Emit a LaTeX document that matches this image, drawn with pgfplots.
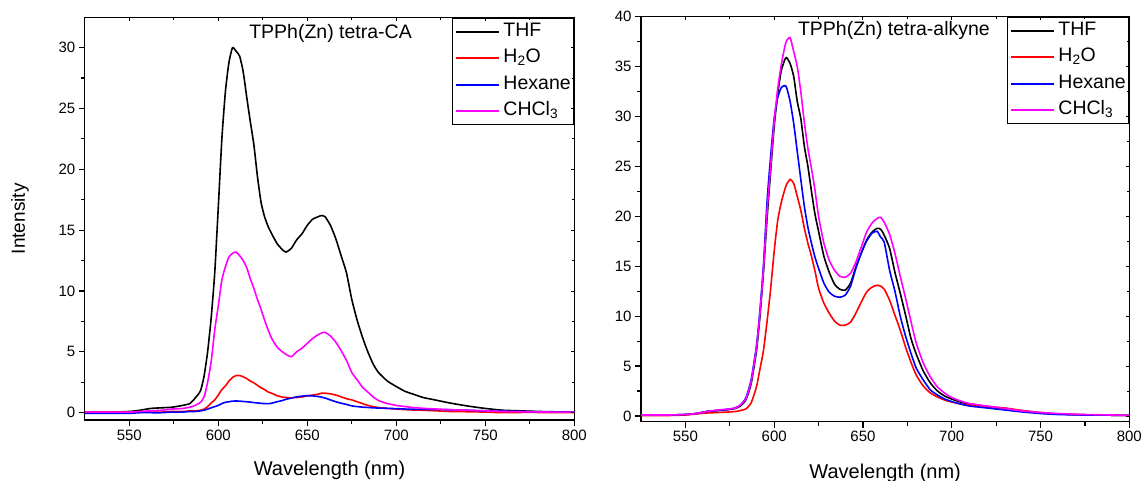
\documentclass[border=0pt]{standalone}
\usepackage{pgfplots}
\pgfplotsset{compat=1.18}
\usepackage{pgfplotstable}
\usepackage{fontspec}
\setmainfont{Liberation Sans}

\pgfplotstableread{
x THF H2O Hex CHCl
525 0.05 0.05 -0.05 0.05
540 0.05 0.05 -0.05 0.05
550 0.1 0.05 -0.05 0.05
556 0.2 0.05 0 0.1
562 0.35 0.05 0 0.15
568 0.4 0.05 0 0.2
574 0.45 0.1 0.05 0.3
580 0.6 0.1 0.05 0.35
584 0.75 0.15 0.1 0.45
587 1.2 0.15 0.1 0.6
590 1.8 0.2 0.15 0.85
592 3.0 0.3 0.2 1.3
594 5.0 0.5 0.3 2.5
596 7.8 0.8 0.4 4.2
598 11.5 1.05 0.5 6.8
600 16.9 1.45 0.6 8.8
602 22.5 1.9 0.75 10.9
604 26.4 2.2 0.85 12.0
606 28.8 2.6 0.9 12.8
608 30.0 2.9 0.95 13.1
610 29.7 3.05 0.96 13.2
612 29.3 3.05 0.95 12.9
614 28.0 2.95 0.92 12.5
616 25.9 2.8 0.9 11.9
618 23.9 2.6 0.87 11.0
620 22.0 2.45 0.83 10.2
622 19.4 2.25 0.8 9.3
624 17.3 2.05 0.77 8.5
626 16.1 1.9 0.75 7.6
628 15.3 1.7 0.74 6.8
630 14.7 1.6 0.78 6.1
633 13.9 1.4 0.9 5.4
636 13.4 1.28 1.0 5.0
638 13.2 1.25 1.1 4.8
641 13.5 1.22 1.2 4.6
644 14.2 1.25 1.3 5.0
647 14.7 1.3 1.36 5.3
650 15.4 1.38 1.4 5.7
653 15.9 1.45 1.38 6.1
656 16.1 1.52 1.33 6.4
658 16.2 1.6 1.28 6.55
660 16.1 1.6 1.2 6.6
663 15.4 1.55 1.05 6.3
666 14.3 1.45 0.9 5.8
669 12.9 1.3 0.78 5.1
672 11.5 1.15 0.68 4.3
675 9.3 1.05 0.56 3.3
678 7.6 0.9 0.5 2.7
681 6.2 0.75 0.46 2.1
684 5.0 0.6 0.43 1.7
687 4.0 0.5 0.4 1.3
690 3.3 0.42 0.38 1.0
695 2.6 0.35 0.36 0.75
700 2.15 0.3 0.33 0.6
705 1.75 0.25 0.3 0.5
710 1.5 0.22 0.28 0.42
715 1.25 0.2 0.27 0.36
720 1.1 0.17 0.26 0.32
730 0.8 0.1 0.24 0.25
740 0.55 0.08 0.2 0.2
750 0.35 0.05 0.15 0.15
760 0.2 0.0 0.12 0.1
770 0.15 0.02 0.1 0.08
780 0.1 0.02 0.07 0.06
790 0.07 0.02 0.05 0.05
800 0.05 0.02 0.05 0.05
}\leftdata

\pgfplotstableread{
x THF H2O Hex CHCl
525 0.1 0.05 0.1 0.1
540 0.1 0.05 0.1 0.1
550 0.15 0.1 0.15 0.15
556 0.25 0.2 0.25 0.25
562 0.45 0.3 0.45 0.45
568 0.55 0.35 0.55 0.6
574 0.65 0.4 0.65 0.7
578 0.75 0.45 0.8 0.8
581 1.0 0.55 1.1 1.1
584 1.6 0.7 1.8 1.7
587 3.2 1.3 3.6 3.4
590 6.5 2.9 7.0 6.8
592 10.0 4.7 10.6 10.3
594 14.5 6.6 15.2 14.8
596 19.8 9.5 21.5 20.5
598 24.5 12.7 26.0 25.0
600 29.0 16.5 29.8 29.5
602 32.3 19.6 31.9 32.8
604 34.6 21.4 32.9 35.2
606 35.7 22.7 33.1 37.0
607 35.9 23.2 32.9 37.6
609 35.3 23.7 31.5 37.9
611 34.0 23.3 29.3 36.5
613 31.5 22.0 26.5 35.0
615 29.8 20.6 23.7 32.5
617 27.0 18.8 21.0 29.4
619 25.0 17.3 18.9 26.8
621 22.5 16.0 17.3 24.8
623 20.2 14.5 15.9 22.6
625 18.5 12.8 14.8 20.0
628 16.0 11.3 13.3 17.3
631 14.4 10.3 12.4 15.6
634 13.2 9.5 12.0 14.6
637 12.7 9.1 11.9 14.0
640 12.6 9.1 12.1 13.9
643 13.3 9.4 13.0 14.3
646 14.9 10.3 14.8 15.4
649 16.3 11.4 16.3 16.9
652 17.6 12.4 17.5 18.4
655 18.4 12.9 18.3 19.3
658 18.8 13.1 18.5 19.8
660 18.7 13.0 17.9 19.9
662 18.1 12.7 17.4 19.4
665 16.8 11.6 14.6 18.2
668 14.4 10.1 12.5 16.3
671 12.3 8.6 10.0 14.0
674 10.1 6.9 8.0 11.8
677 7.8 5.4 6.3 9.5
680 6.2 4.1 4.8 7.3
684 4.5 3.0 3.6 5.3
688 3.3 2.3 2.6 3.9
692 2.5 1.9 2.1 2.9
696 2.0 1.6 1.7 2.3
700 1.7 1.4 1.45 1.85
705 1.4 1.2 1.2 1.5
710 1.2 1.1 1.0 1.25
720 0.95 0.95 0.8 1.0
730 0.7 0.8 0.6 0.75
740 0.5 0.55 0.4 0.5
750 0.3 0.35 0.25 0.35
760 0.2 0.2 0.15 0.25
775 0.12 0.12 0.1 0.15
790 0.08 0.08 0.08 0.1
800 0.05 0.05 0.05 0.05
}\rightdata

\definecolor{cmag}{RGB}{255,0,255}

\pgfplotsset{
  myaxis/.style={
    scale only axis,
    xmin=525, xmax=800,
    xtick={550,600,...,800},
    minor x tick num=1, minor y tick num=1,
    axis line style={line width=1.2pt},
    tick align=outside, xtick pos=bottom, ytick pos=left,
    major tick length=6pt, minor tick length=4pt,
    every tick/.style={black, line width=1.2pt},
    tick label style={font=\fontsize{15}{18}\selectfont},
    /pgf/number format/assume math mode=true,
    scaled ticks=false,
    label style={font=\fontsize{20}{24}\selectfont},
    legend image code/.code={\draw[#1] (0pt,0pt) -- (43pt,0pt);},
    legend style={at={(1.0,1.0)}, anchor=north east, draw=black, line width=1.2pt,
      inner sep=2pt, font=\fontsize{19.5}{22}\selectfont, cells={anchor=west},
      nodes={inner sep=1pt, text height=15pt, text depth=6pt},
      row sep=3.5pt, column sep=3pt},
    legend cell align=left,
  },
  overaxis/.style={
    scale only axis,
    xmin=525, xmax=800,
    xtick={550,600,...,800},
    minor x tick num=1, minor y tick num=1,
    axis line style={draw=none},
    tick align=inside, xtick pos=right, ytick pos=right,
    major tick length=3pt, minor tick length=2pt,
    every tick/.style={black, line width=1pt},
    xticklabels={}, yticklabels={},
  },
  curve/.style={line width=1.6pt, smooth, tension=0.35},
}

\begin{document}
\begin{tikzpicture}
\useasboundingbox (0pt,0pt) rectangle (1144pt,481pt);

% ---------- left panel ----------
\begin{axis}[myaxis,
  at={(84.8pt,61pt)}, anchor=south west,
  width=489.5pt, height=402.3pt,
  ymin=-0.6, ymax=32.46,
  ytick={0,5,...,30},
  xlabel={Wavelength (nm)}, ylabel={Intensity},
  xlabel style={at={(axis description cs:0.5,0)}, anchor=center, yshift=-50pt},
  ylabel style={at={(axis description cs:-0.1324,0.5)}, anchor=center, font=\fontsize{19}{22}\selectfont},
]
\addplot[curve, black] table[x=x, y=THF] {\leftdata};
\addlegendentry{THF}
\addplot[curve, red] table[x=x, y=H2O] {\leftdata};
\addlegendentry{H\textsubscript{2}O}
\addplot[curve, blue] table[x=x, y=Hex] {\leftdata};
\addlegendentry{Hexane}
\addplot[curve, cmag] table[x=x, y=CHCl] {\leftdata};
\addlegendentry{CHCl\textsubscript{3}}
\node[font=\fontsize{19.5}{22}\selectfont] at (rel axis cs:0.502,0.96) {TPPh(Zn) tetra-CA};
\end{axis}
\begin{axis}[overaxis,
  at={(84.8pt,61pt)}, anchor=south west,
  width=489.5pt, height=402.3pt,
  ymin=-0.6, ymax=32.46, ytick={0,5,...,30}]
\addplot[draw=none] coordinates {(600,1)};
\end{axis}

% ---------- right panel ----------
\begin{axis}[myaxis,
  at={(641pt,59.3pt)}, anchor=south west,
  width=488.3pt, height=405pt,
  ymin=-0.57, ymax=40,
  ytick={0,5,...,40},
  xlabel={Wavelength (nm)},
  xlabel style={at={(axis description cs:0.5,0)}, anchor=center, yshift=-51.3pt},
]
\addplot[curve, black] table[x=x, y=THF] {\rightdata};
\addlegendentry{THF}
\addplot[curve, red] table[x=x, y=H2O] {\rightdata};
\addlegendentry{H\textsubscript{2}O}
\addplot[curve, blue] table[x=x, y=Hex] {\rightdata};
\addlegendentry{Hexane}
\addplot[curve, cmag] table[x=x, y=CHCl] {\rightdata};
\addlegendentry{CHCl\textsubscript{3}}
\node[font=\fontsize{19.5}{22}\selectfont] at (rel axis cs:0.518,0.965) {TPPh(Zn) tetra-alkyne};
\end{axis}
\begin{axis}[overaxis,
  at={(641pt,59.3pt)}, anchor=south west,
  width=488.3pt, height=405pt,
  ymin=-0.57, ymax=40, ytick={0,5,...,40}]
\addplot[draw=none] coordinates {(600,1)};
\end{axis}
\end{tikzpicture}
\end{document}
